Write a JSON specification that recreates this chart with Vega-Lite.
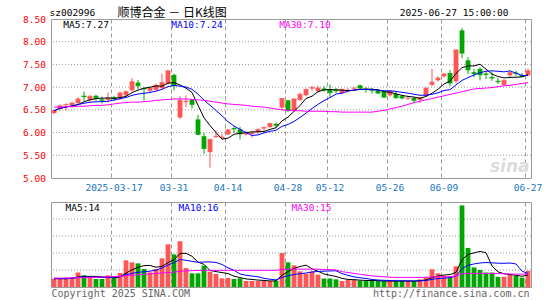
{
  "$schema": "https://vega.github.io/schema/vega-lite/v6.json",
  "background": "white",
  "padding": {"left": 22, "top": 5, "right": 5, "bottom": 5},
  "bounds": "flush",
  "spacing": 24,
  "datasets": {
    "k": [
      {"d":"2025-03-03","o":6.43,"h":6.50,"l":6.40,"c":6.48,"v":9.8,"m30":6.56,"vm30":10.5},
      {"d":"2025-03-04","o":6.52,"h":6.62,"l":6.47,"c":6.59,"v":9.8,"m30":6.56,"vm30":10.5},
      {"d":"2025-03-05","o":6.60,"h":6.64,"l":6.48,"c":6.62,"v":9.8,"m30":6.57,"vm30":10.6},
      {"d":"2025-03-06","o":6.60,"h":6.68,"l":6.55,"c":6.65,"v":11.4,"m30":6.57,"vm30":10.7},
      {"d":"2025-03-07","o":6.65,"h":6.78,"l":6.63,"c":6.74,"v":17.2,"m30":6.58,"vm30":10.8},
      {"d":"2025-03-10","o":6.81,"h":6.90,"l":6.70,"c":6.79,"v":13.7,"m30":6.58,"vm30":11},
      {"d":"2025-03-11","o":6.72,"h":6.82,"l":6.68,"c":6.80,"v":10.6,"m30":6.59,"vm30":11.2},
      {"d":"2025-03-12","o":6.81,"h":6.83,"l":6.70,"c":6.75,"v":9.4,"m30":6.60,"vm30":11.5},
      {"d":"2025-03-13","o":6.73,"h":6.79,"l":6.64,"c":6.71,"v":9.4,"m30":6.60,"vm30":11.8},
      {"d":"2025-03-14","o":6.72,"h":6.88,"l":6.66,"c":6.76,"v":13.7,"m30":6.61,"vm30":12},
      {"d":"2025-03-17","o":6.78,"h":6.81,"l":6.70,"c":6.75,"v":10.6,"m30":6.63,"vm30":12.3},
      {"d":"2025-03-18","o":6.76,"h":6.90,"l":6.72,"c":6.87,"v":16.5,"m30":6.65,"vm30":12.6},
      {"d":"2025-03-19","o":6.82,"h":6.93,"l":6.80,"c":6.90,"v":31.4,"m30":6.66,"vm30":13.2},
      {"d":"2025-03-20","o":6.93,"h":7.20,"l":6.91,"c":7.12,"v":29,"m30":6.67,"vm30":13.8},
      {"d":"2025-03-21","o":7.10,"h":7.16,"l":6.95,"c":7.03,"v":27.8,"m30":6.67,"vm30":14.4},
      {"d":"2025-03-24","o":6.98,"h":7.00,"l":6.70,"c":6.96,"v":21.2,"m30":6.68,"vm30":15},
      {"d":"2025-03-25","o":6.92,"h":7.00,"l":6.88,"c":6.98,"v":17.2,"m30":6.69,"vm30":15.5},
      {"d":"2025-03-26","o":6.94,"h":7.08,"l":6.92,"c":7.04,"v":21.2,"m30":6.71,"vm30":16},
      {"d":"2025-03-27","o":6.98,"h":7.30,"l":6.95,"c":7.10,"v":33.7,"m30":6.72,"vm30":16.5},
      {"d":"2025-03-28","o":7.08,"h":7.38,"l":7.06,"c":7.36,"v":50.2,"m30":6.73,"vm30":17},
      {"d":"2025-03-31","o":7.27,"h":7.30,"l":6.93,"c":7.03,"v":38.4,"m30":6.74,"vm30":17.5},
      {"d":"2025-04-01","o":6.33,"h":6.80,"l":6.30,"c":6.71,"v":53.7,"m30":6.74,"vm30":18.5},
      {"d":"2025-04-02","o":6.67,"h":6.82,"l":6.56,"c":6.69,"v":22.3,"m30":6.74,"vm30":19},
      {"d":"2025-04-03","o":6.72,"h":6.73,"l":6.53,"c":6.62,"v":16.1,"m30":6.73,"vm30":19.2},
      {"d":"2025-04-07","o":6.29,"h":6.39,"l":5.94,"c":5.96,"v":16.1,"m30":6.72,"vm30":19.5},
      {"d":"2025-04-08","o":5.92,"h":5.99,"l":5.53,"c":5.65,"v":25.1,"m30":6.71,"vm30":19.6},
      {"d":"2025-04-09","o":5.57,"h":5.86,"l":5.23,"c":5.85,"v":18,"m30":6.69,"vm30":19.6},
      {"d":"2025-04-10","o":5.90,"h":6.05,"l":5.88,"c":5.92,"v":15.3,"m30":6.67,"vm30":19.6},
      {"d":"2025-04-11","o":5.88,"h":5.97,"l":5.84,"c":5.90,"v":10.2,"m30":6.65,"vm30":19.6},
      {"d":"2025-04-14","o":5.96,"h":6.08,"l":5.94,"c":6.06,"v":10.6,"m30":6.63,"vm30":19.6},
      {"d":"2025-04-15","o":6.10,"h":6.13,"l":5.99,"c":6.08,"v":9.4,"m30":6.62,"vm30":19.6},
      {"d":"2025-04-16","o":6.07,"h":6.13,"l":5.85,"c":5.97,"v":10.2,"m30":6.61,"vm30":19.6},
      {"d":"2025-04-17","o":5.96,"h":6.04,"l":5.93,"c":5.98,"v":7.1,"m30":6.60,"vm30":19.6},
      {"d":"2025-04-18","o":5.97,"h":6.02,"l":5.89,"c":5.99,"v":7.1,"m30":6.58,"vm30":19.6},
      {"d":"2025-04-21","o":6.01,"h":6.09,"l":5.96,"c":6.07,"v":7.1,"m30":6.57,"vm30":19.6},
      {"d":"2025-04-22","o":6.09,"h":6.14,"l":6.04,"c":6.11,"v":7.1,"m30":6.56,"vm30":19.6},
      {"d":"2025-04-23","o":6.12,"h":6.22,"l":6.11,"c":6.20,"v":7.1,"m30":6.54,"vm30":19.6},
      {"d":"2025-04-24","o":6.19,"h":6.22,"l":6.10,"c":6.16,"v":7.5,"m30":6.52,"vm30":19.6},
      {"d":"2025-04-25","o":6.55,"h":6.76,"l":6.49,"c":6.75,"v":40,"m30":6.50,"vm30":20.5},
      {"d":"2025-04-28","o":6.71,"h":6.72,"l":6.46,"c":6.48,"v":29,"m30":6.49,"vm30":21},
      {"d":"2025-04-29","o":6.48,"h":6.75,"l":6.46,"c":6.74,"v":25.5,"m30":6.48,"vm30":21},
      {"d":"2025-04-30","o":6.72,"h":6.88,"l":6.70,"c":6.84,"v":18.4,"m30":6.48,"vm30":21},
      {"d":"2025-05-06","o":6.82,"h":6.97,"l":6.80,"c":6.95,"v":15.7,"m30":6.47,"vm30":21},
      {"d":"2025-05-07","o":6.97,"h":7.03,"l":6.92,"c":6.99,"v":18.4,"m30":6.47,"vm30":21},
      {"d":"2025-05-08","o":6.91,"h":7.03,"l":6.88,"c":6.98,"v":14.5,"m30":6.47,"vm30":21},
      {"d":"2025-05-09","o":6.97,"h":7.02,"l":6.90,"c":6.94,"v":10,"m30":6.47,"vm30":20.5},
      {"d":"2025-05-12","o":6.94,"h":7.06,"l":6.78,"c":6.88,"v":10,"m30":6.46,"vm30":20.5},
      {"d":"2025-05-13","o":6.94,"h":6.98,"l":6.87,"c":6.92,"v":9,"m30":6.46,"vm30":20},
      {"d":"2025-05-14","o":6.87,"h":6.97,"l":6.85,"c":6.95,"v":7,"m30":6.45,"vm30":18},
      {"d":"2025-05-15","o":6.92,"h":6.98,"l":6.89,"c":6.93,"v":8.5,"m30":6.45,"vm30":17},
      {"d":"2025-05-16","o":6.97,"h":7.00,"l":6.94,"c":6.98,"v":8.5,"m30":6.45,"vm30":16},
      {"d":"2025-05-19","o":7.04,"h":7.06,"l":6.94,"c":6.98,"v":7.5,"m30":6.45,"vm30":15},
      {"d":"2025-05-20","o":6.96,"h":7.00,"l":6.88,"c":6.95,"v":7,"m30":6.45,"vm30":14},
      {"d":"2025-05-21","o":6.94,"h":6.98,"l":6.86,"c":6.93,"v":7,"m30":6.45,"vm30":13},
      {"d":"2025-05-22","o":6.93,"h":6.96,"l":6.85,"c":6.87,"v":7,"m30":6.47,"vm30":12.5},
      {"d":"2025-05-23","o":6.91,"h":6.93,"l":6.76,"c":6.78,"v":7,"m30":6.49,"vm30":12},
      {"d":"2025-05-26","o":6.82,"h":6.93,"l":6.79,"c":6.91,"v":7,"m30":6.52,"vm30":11.5},
      {"d":"2025-05-27","o":6.85,"h":6.90,"l":6.74,"c":6.77,"v":7,"m30":6.55,"vm30":11.3},
      {"d":"2025-05-28","o":6.80,"h":6.83,"l":6.73,"c":6.76,"v":7,"m30":6.58,"vm30":11.3},
      {"d":"2025-05-29","o":6.75,"h":6.80,"l":6.72,"c":6.76,"v":7,"m30":6.62,"vm30":11.3},
      {"d":"2025-05-30","o":6.76,"h":6.78,"l":6.65,"c":6.71,"v":7,"m30":6.66,"vm30":11.3},
      {"d":"2025-06-03","o":6.72,"h":6.78,"l":6.65,"c":6.77,"v":9,"m30":6.69,"vm30":11.3},
      {"d":"2025-06-04","o":6.81,"h":6.99,"l":6.80,"c":6.98,"v":11.4,"m30":6.72,"vm30":11.5},
      {"d":"2025-06-05","o":7.05,"h":7.40,"l":7.02,"c":7.11,"v":20.8,"m30":6.75,"vm30":11.8},
      {"d":"2025-06-06","o":7.15,"h":7.24,"l":7.12,"c":7.20,"v":16.1,"m30":6.78,"vm30":12},
      {"d":"2025-06-09","o":7.24,"h":7.31,"l":7.21,"c":7.29,"v":13.3,"m30":6.81,"vm30":12},
      {"d":"2025-06-10","o":7.31,"h":7.38,"l":7.02,"c":7.09,"v":11.4,"m30":6.84,"vm30":12.2},
      {"d":"2025-06-11","o":7.13,"h":7.82,"l":7.08,"c":7.82,"v":24.3,"m30":6.87,"vm30":13},
      {"d":"2025-06-12","o":8.25,"h":8.30,"l":7.64,"c":7.75,"v":96,"m30":6.90,"vm30":15.5},
      {"d":"2025-06-13","o":7.59,"h":7.66,"l":7.29,"c":7.38,"v":46,"m30":6.93,"vm30":16},
      {"d":"2025-06-16","o":7.33,"h":7.40,"l":7.22,"c":7.30,"v":23,"m30":6.96,"vm30":16},
      {"d":"2025-06-17","o":7.40,"h":7.44,"l":7.15,"c":7.27,"v":20,"m30":6.97,"vm30":16},
      {"d":"2025-06-18","o":7.30,"h":7.33,"l":7.18,"c":7.28,"v":17,"m30":6.98,"vm30":16},
      {"d":"2025-06-19","o":7.22,"h":7.33,"l":7.14,"c":7.20,"v":17,"m30":6.99,"vm30":16},
      {"d":"2025-06-20","o":7.14,"h":7.20,"l":7.07,"c":7.12,"v":12,"m30":7.01,"vm30":15.8},
      {"d":"2025-06-23","o":7.05,"h":7.17,"l":7.02,"c":7.15,"v":12,"m30":7.03,"vm30":15.5},
      {"d":"2025-06-24","o":7.26,"h":7.35,"l":7.23,"c":7.32,"v":15,"m30":7.04,"vm30":15.3},
      {"d":"2025-06-25","o":7.32,"h":7.36,"l":7.24,"c":7.30,"v":13,"m30":7.06,"vm30":15.2},
      {"d":"2025-06-26","o":7.27,"h":7.31,"l":7.22,"c":7.24,"v":11,"m30":7.08,"vm30":15.1},
      {"d":"2025-06-27","o":7.26,"h":7.41,"l":7.24,"c":7.36,"v":19,"m30":7.10,"vm30":15}
    ],
    "pricelevels": [{"g": 5.5}, {"g": 6}, {"g": 6.5}, {"g": 7}, {"g": 7.5}, {"g": 8}],
    "vollevels": [{"g": 20}, {"g": 40}, {"g": 60}, {"g": 80}]
  },
  "data": {"name": "k"},
  "config": {
    "view": {"stroke": "#999999", "strokeWidth": 1},
    "axis": {
      "domain": false, "ticks": false,
      "labelFont": "DejaVu Sans Mono", "labelFontSize": 9.5,
      "titleFont": "DejaVu Sans Mono", "titleFontSize": 9.5, "titleFontWeight": "normal",
      "titleColor": "#000000", "titleAngle": 0
    },
    "legend": {"labelFont": "DejaVu Sans Mono", "labelFontSize": 9.5}
  },
  "resolve": {"scale": {"color": "independent"}},
  "vconcat": [
    {
      "width": 480,
      "height": 159,
      "layer": [
        {
          "data": {"name": "pricelevels"},
          "mark": {"type": "rule", "color": "#999999", "strokeWidth": 1, "strokeDash": [1, 2]},
          "encoding": {
            "y": {"field": "g", "type": "quantitative", "axis": null}
          }
        },
        {
          "mark": {"type": "rule", "strokeWidth": 1},
          "encoding": {
            "x": {
              "field": "d", "type": "ordinal",
              "scale": {"type": "band", "paddingInner": 0.2, "paddingOuter": 0.1},
              "axis": {
                "orient": "bottom",
                "values": ["2025-03-17","2025-03-31","2025-04-14","2025-04-28","2025-05-12","2025-05-26","2025-06-09","2025-06-27"],
                "labelExpr": "datum.value == '2025-03-17' ? datum.value : slice(datum.value, 5)",
                "labelColor": "#1a75c4", "labelPadding": 4.5, "labelAngle": 0, "labelOverlap": false,
                "bandPosition": 0, "grid": true, "gridDash": [4, 3], "gridColor": "#999999",
                "title": "sina", "titleX": 478, "titleY": -12, "titleAlign": "right", "titleBaseline": "middle",
                "titleFont": "DejaVu Sans", "titleFontSize": 17, "titleFontWeight": "bold", "titleFontStyle": "italic", "titleColor": "#dcdcdc"
              }
            },
            "y": {
              "field": "l", "type": "quantitative",
              "scale": {"domain": [5, 8.5], "nice": false, "zero": false},
              "axis": {
                "orient": "left", "values": [5, 5.5, 6, 6.5, 7, 7.5, 8, 8.5], "format": ".2f",
                "labelColor": "#ff0000", "labelPadding": 5.5, "grid": false,
                "title": "sz002996", "titleX": -2, "titleY": -7, "titleAlign": "left", "titleBaseline": "middle"
              }
            },
            "y2": {"field": "h"},
            "color": {"condition": {"test": "datum.c >= datum.o", "value": "#ff5555"}, "value": "#00a600"}
          }
        },
        {
          "mark": {"type": "bar"},
          "encoding": {
            "x": {
              "field": "d", "type": "ordinal",
              "axis": {
                "orient": "top", "labels": false, "grid": false,
                "title": "顺博合金 － 日K线图", "titleX": 66, "titleY": -7, "titleAlign": "left", "titleBaseline": "middle",
                "titleFont": "Noto Sans CJK SC", "titleFontSize": 12
              }
            },
            "y": {
              "field": "o", "type": "quantitative",
              "axis": {
                "orient": "right", "labels": false, "grid": false,
                "title": "2025-06-27 15:00:00", "titleX": -23, "titleY": -7, "titleAlign": "right", "titleBaseline": "middle"
              }
            },
            "y2": {"field": "c"},
            "color": {"condition": {"test": "datum.c >= datum.o", "value": "#ff5555"}, "value": "#00a600"}
          }
        },
        {
          "mark": {"type": "tick", "thickness": 1, "size": 5},
          "encoding": {
            "x": {"field": "d", "type": "ordinal", "axis": null},
            "y": {"field": "c", "type": "quantitative", "axis": null},
            "color": {"condition": {"test": "datum.c >= datum.o", "value": "#ff5555"}, "value": "#00a600"}
          }
        },
        {
          "transform": [
            {"window": [{"op": "mean", "field": "c", "as": "ma5"}], "frame": [-4, 0], "sort": [{"field": "d"}]},
            {"window": [{"op": "mean", "field": "c", "as": "ma10"}], "frame": [-9, 0], "sort": [{"field": "d"}]},
            {"fold": ["ma5", "ma10", "m30"], "as": ["k", "val"]}
          ],
          "mark": {"type": "line", "strokeWidth": 1},
          "encoding": {
            "x": {"field": "d", "type": "ordinal", "axis": null},
            "y": {"field": "val", "type": "quantitative", "axis": null},
            "color": {
              "field": "k", "type": "nominal",
              "scale": {"domain": ["ma5", "ma10", "m30"], "range": ["#000000", "#0000ff", "#ff00ff"]},
              "legend": {
                "orient": "none", "legendX": 2.7, "legendY": 1.3, "direction": "horizontal", "title": null,
                "labelExpr": "datum.value == 'ma5' ? 'MA5:7.27' : datum.value == 'ma10' ? 'MA10:7.24' : 'MA30:7.10'",
                "gridAlign": "all", "columnPadding": 47,
                "symbolType": "stroke", "symbolSize": 0, "symbolStrokeWidth": 0, "symbolOpacity": 0,
                "labelOffset": 0, "padding": 0,
                "encode": {"labels": {"update": {"fill": {"signal": "datum.value == 'ma5' ? '#000000' : datum.value == 'ma10' ? '#0000ff' : '#ff00ff'"}}}}
              }
            }
          }
        }
      ]
    },
    {
      "width": 480,
      "height": 85,
      "layer": [
        {
          "data": {"name": "vollevels"},
          "mark": {"type": "rule", "color": "#999999", "strokeWidth": 1, "strokeDash": [1, 2]},
          "encoding": {
            "y": {"field": "g", "type": "quantitative", "axis": null}
          }
        },
        {
          "mark": {"type": "bar"},
          "encoding": {
            "x": {
              "field": "d", "type": "ordinal",
              "scale": {"type": "band", "paddingInner": 0.2, "paddingOuter": 0.1},
              "axis": {
                "orient": "bottom",
                "values": ["2025-03-17","2025-03-31","2025-04-14","2025-04-28","2025-05-12","2025-05-26","2025-06-09","2025-06-27"],
                "labels": false, "bandPosition": 0, "grid": true, "gridDash": [4, 3], "gridColor": "#999999",
                "title": "Copyright 2025 SINA.COM", "titleX": 0, "titleY": 6.5, "titleAlign": "left", "titleBaseline": "middle",
                "titleColor": "#666666", "titleFontSize": 10
              }
            },
            "y": {
              "field": "v", "type": "quantitative",
              "scale": {"domain": [0, 100], "nice": false},
              "axis": {
                "orient": "left", "values": [0, 20, 40, 60, 80, 100],
                "labelExpr": "datum.value == 0 ? 'x万' : datum.label",
                "labelColor": "#999999", "labelPadding": 4, "grid": false, "title": null
              }
            },
            "color": {"condition": {"test": "datum.c >= datum.o", "value": "#ff5555"}, "value": "#00a600"}
          }
        },
        {
          "transform": [
            {"window": [{"op": "mean", "field": "v", "as": "vma5"}], "frame": [-4, 0], "sort": [{"field": "d"}]},
            {"window": [{"op": "mean", "field": "v", "as": "vma10"}], "frame": [-9, 0], "sort": [{"field": "d"}]},
            {"fold": ["vma5", "vma10", "vm30"], "as": ["k", "val"]}
          ],
          "mark": {"type": "line", "strokeWidth": 1},
          "encoding": {
            "x": {
              "field": "d", "type": "ordinal",
              "axis": {
                "orient": "top", "labels": false, "grid": false,
                "title": "http://finance.sina.com.cn", "titleX": 478, "titleY": 91.5, "titleAlign": "right", "titleBaseline": "middle",
                "titleColor": "#666666", "titleFontSize": 10
              }
            },
            "y": {"field": "val", "type": "quantitative", "axis": null},
            "color": {
              "field": "k", "type": "nominal",
              "scale": {"domain": ["vma5", "vma10", "vm30"], "range": ["#000000", "#0000ff", "#ff00ff"]},
              "legend": {
                "orient": "none", "legendX": 5, "legendY": 0.5, "direction": "horizontal", "title": null,
                "labelExpr": "datum.value == 'vma5' ? 'MA5:14' : datum.value == 'vma10' ? 'MA10:16' : 'MA30:15'",
                "gridAlign": "all", "columnPadding": 63,
                "symbolType": "stroke", "symbolSize": 0, "symbolStrokeWidth": 0, "symbolOpacity": 0,
                "labelOffset": 0, "padding": 0,
                "encode": {"labels": {"update": {"fill": {"signal": "datum.value == 'vma5' ? '#000000' : datum.value == 'vma10' ? '#0000ff' : '#ff00ff'"}}}}
              }
            }
          }
        }
      ]
    }
  ]
}
